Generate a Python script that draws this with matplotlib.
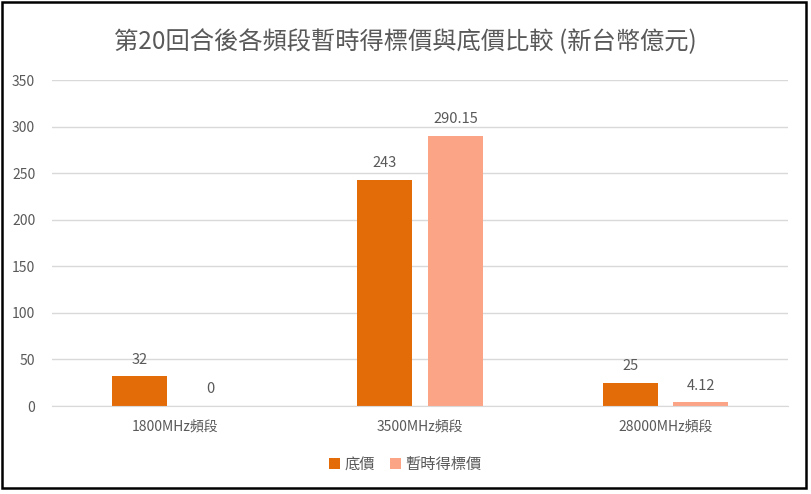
import matplotlib
matplotlib.use('Agg')
import matplotlib.pyplot as plt
import numpy as np
from matplotlib.patches import Rectangle

plt.rcParams['font.family'] = ['Noto Sans CJK TC', 'DejaVu Sans']

categories = ['1800MHz頻段', '3500MHz頻段', '28000MHz頻段']
reserve = [32, 243, 25]
provisional = [0, 290.15, 4.12]
reserve_labels = ['32', '243', '25']
provisional_labels = ['0', '290.15', '4.12']

c_dark = '#E36C09'
c_light = '#FBA486'
txt = '#595959'

fig = plt.figure(figsize=(8.11, 4.94), dpi=100)
ax = fig.add_axes([0.064, 0.178, 0.908, 0.66])

x = np.arange(len(categories))
w = 0.224
off = 0.144
b1 = ax.bar(x - off, reserve, w, color=c_dark, label='底價')
b2 = ax.bar(x + off, provisional, w, color=c_light, label='暫時得標價')

for rect, lab in zip(b1, reserve_labels):
    ax.annotate(lab, (rect.get_x() + rect.get_width() / 2, rect.get_height()),
                xytext=(0, 7), textcoords='offset points', ha='center', va='bottom',
                fontsize=10.5, color=txt)
for rect, lab in zip(b2, provisional_labels):
    ax.annotate(lab, (rect.get_x() + rect.get_width() / 2, rect.get_height()),
                xytext=(0, 7), textcoords='offset points', ha='center', va='bottom',
                fontsize=10.5, color=txt)

ax.set_xlim(-0.5, 2.5)
ax.set_ylim(0, 350)
ax.set_yticks(range(0, 351, 50))
ax.set_xticks(x)
ax.set_xticklabels(categories)
ax.tick_params(axis='both', length=0, labelsize=10, labelcolor=txt)
ax.tick_params(axis='x', pad=10)
ax.tick_params(axis='y', pad=12)
ax.yaxis.grid(True, color='#D9D9D9', linewidth=1)
ax.set_axisbelow(True)
for s in ['top', 'right', 'left']:
    ax.spines[s].set_visible(False)
ax.spines['bottom'].set_color('#D9D9D9')

fig.text(0.5, 0.915, '第20回合後各頻段暫時得標價與底價比較 (新台幣億元)',
         ha='center', va='center', fontsize=17.5, color=txt)

fig.legend(handles=[b1, b2], loc='center', bbox_to_anchor=(0.5, 0.06), ncol=2,
           frameon=False, fontsize=11, labelcolor=txt, handlelength=0.7,
           handleheight=0.7, handletextpad=0.3, columnspacing=1.0)

fig.patches.append(Rectangle((0.003, 0.012), 0.991, 0.984, transform=fig.transFigure,
                             fill=False, edgecolor='black', linewidth=1.8))

fig.savefig('out.png', dpi=100)
